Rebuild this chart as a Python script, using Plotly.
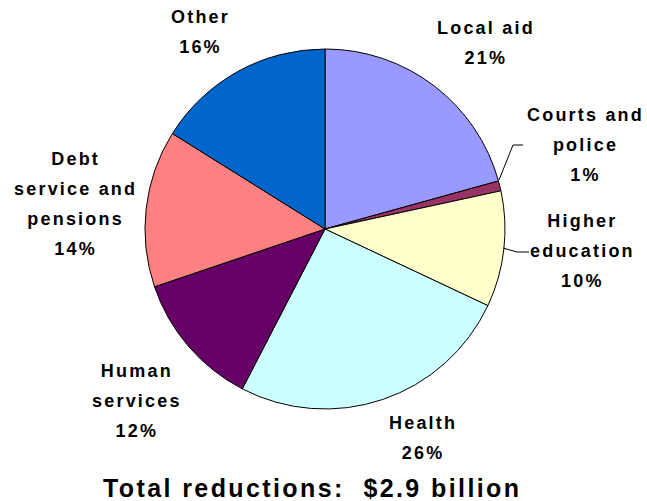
import plotly.graph_objects as go

categories = ["Local aid", "Courts and police", "Higher education", "Health",
              "Human services", "Debt service and pensions", "Other"]
values = [20.7, 0.9, 10.4, 25.6, 12.2, 14.1, 16.1]
colors = ["#9999FF", "#993366", "#FFFFCC", "#CCFFFF", "#660066", "#FF8080", "#0066CC"]
label_lines = [["Local aid"], ["Courts and", "police"], ["Higher", "education"], ["Health"],
               ["Human", "services"], ["Debt", "service and", "pensions"], ["Other"]]
title_text = "Total reductions:  $2.9 billion"

W, H = 647, 501
CX, CY, R = 325, 229, 180

# label block centres (pixels)
label_pos = [(486, 43), (585, 145), (582, 251), (423, 438), (137, 401), (75, 204), (200, 32)]
# leader lines (pixels)
leaders = {1: [(499, 180), (513, 145), (523, 145)],
           2: [(503, 248), (517, 252), (529, 252)]}

def px(x):
    return x / W

def py(y):
    return 1 - y / H

fig = go.Figure(go.Pie(
    labels=categories, values=values, sort=False, direction="clockwise", rotation=0,
    marker=dict(colors=colors, line=dict(color="black", width=1)),
    textinfo="none", hoverinfo="label+percent", showlegend=False,
    domain=dict(x=[px(CX - R), px(CX + R)], y=[py(CY + R), py(CY - R)]),
))

total = sum(values)
FONT = "Liberation Sans, Arial, sans-serif"
span = '<span style="font-size:18px;letter-spacing:2.2px">{}</span>'
annotations = []
for i, lines in enumerate(label_lines):
    pct = f"{round(values[i] / total * 100)}%"
    txt = "<br>".join(span.format(l) for l in lines + [pct])
    x, y = label_pos[i]
    annotations.append(dict(x=px(x), y=py(y), xref="paper", yref="paper", text=txt,
                            showarrow=False, xanchor="center", yanchor="middle", align="center",
                            font=dict(family=FONT, size=23, color="black", weight="bold")))

annotations.append(dict(x=px(312), y=py(488), xref="paper", yref="paper",
                        text=f'<span style="letter-spacing:2.4px">{title_text.replace("  ", "&nbsp; ")}</span>',
                        showarrow=False, xanchor="center", yanchor="middle",
                        font=dict(family=FONT, size=25, color="black", weight="bold")))

shapes = []
for k, pts in leaders.items():
    path = "M " + " L ".join(f"{px(a)},{py(b)}" for a, b in pts)
    shapes.append(dict(type="path", path=path, xref="paper", yref="paper",
                       line=dict(color="black", width=1)))

fig.update_layout(width=W, height=H, margin=dict(l=0, r=0, t=0, b=0),
                  paper_bgcolor="white", plot_bgcolor="white",
                  annotations=annotations, shapes=shapes)

fig.write_html("out.html")
